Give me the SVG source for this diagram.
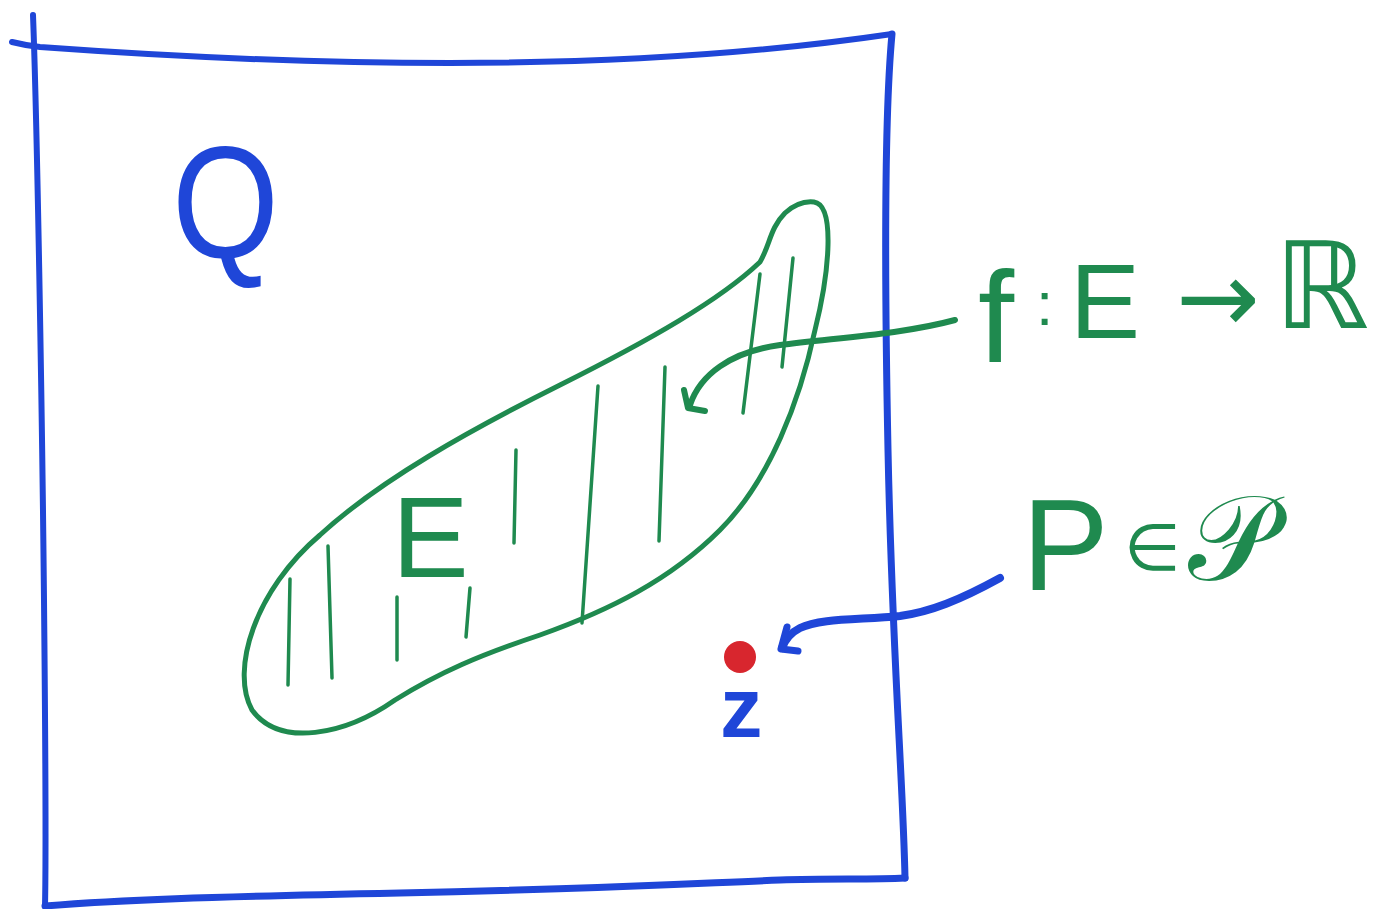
<svg xmlns="http://www.w3.org/2000/svg" width="1375" height="909" viewBox="0 0 1375 909">
<style>
.blue{fill:none;stroke:#1f46d8;stroke-linecap:round;stroke-linejoin:round}
.green{fill:none;stroke:#1f8a4f;stroke-linecap:round;stroke-linejoin:round}
.hatch{fill:none;stroke:#1f8a4f;stroke-width:3.5;stroke-linecap:round}
.tg{fill:#1f8a4f;font-family:"Liberation Sans","DejaVu Sans",sans-serif}
.tb{fill:#1f46d8;font-family:"Liberation Sans","DejaVu Sans",sans-serif}
</style>
<rect width="1375" height="909" fill="#ffffff"/>
<g id="frame">
<path class="blue" stroke-width="6" d="M 12,42 C 20,44 30,46 40,47 C 150,55 300,63 450,63 C 600,63 750,55 892,34"/>
<path class="blue" stroke-width="6" d="M 33,15 C 37,120 42,400 44,600 C 46,800 46,860 45,906"/>
<path class="blue" stroke-width="7" d="M 892,34 C 884,120 885,300 888,450 C 892,650 903,780 905,878"/>
<path class="blue" stroke-width="7" d="M 45,906 C 120,900 200,897 400,893 C 600,889 700,883 780,880 C 830,878 870,880 905,878"/>
</g>
<g id="Q">
<text class="tb" x="0" y="0" font-size="160" transform="translate(172,258) scale(0.86,1)">Q</text>
</g>
<g id="E">
<path class="green" stroke-width="5" d="M 814,202 C 835,205 830,270 815,330 C 800,400 770,480 720,530 C 670,580 610,610 540,635 C 480,655 440,672 395,700 C 345,735 280,748 252,710 C 230,670 255,590 320,535 C 380,480 470,430 560,385 C 650,340 720,300 760,262 C 770,245 770,228 785,213 C 795,204 805,201 814,202 Z"/>
<g id="hatching">
<line class="hatch" x1="290" y1="579" x2="288" y2="685"/>
<line class="hatch" x1="328" y1="546" x2="332" y2="678"/>
<line class="hatch" x1="397" y1="597" x2="397" y2="660"/>
<line class="hatch" x1="470" y1="588" x2="466" y2="637"/>
<line class="hatch" x1="516" y1="450" x2="514" y2="543"/>
<line class="hatch" x1="598" y1="386" x2="582" y2="623"/>
<line class="hatch" x1="665" y1="367" x2="659" y2="541"/>
<line class="hatch" x1="760" y1="274" x2="743" y2="413"/>
<line class="hatch" x1="793" y1="258" x2="782" y2="367"/>
</g>
<text class="tg" x="392" y="577" font-size="115">E</text>
</g>
<g id="z">
<circle cx="740" cy="657" r="16" fill="#d8262e"/>
<text class="tb" x="720" y="737" font-size="85" font-weight="bold">z</text>
</g>
<g id="f-label">
<text class="tg" y="338" font-size="105"><tspan x="978" y="362" font-size="130">f</tspan><tspan x="1036" y="325" font-size="62">:</tspan><tspan x="1070" y="338">E</tspan><tspan x="1176" y="332" font-size="100" font-family="DejaVu Sans, sans-serif">→</tspan><tspan x="1274" y="328" font-size="120" font-family="DejaVu Sans, sans-serif">ℝ</tspan></text>
</g>
<g id="P-label">
<text class="tg" y="590" font-size="130"><tspan x="1022" y="590">P</tspan><tspan x="1124" y="570" font-size="65" font-family="DejaVu Sans, sans-serif">∈</tspan><tspan x="1188" y="580" font-size="120" font-family="DejaVu Serif, DejaVu Sans, serif">𝒫</tspan></text>
</g>
<g id="connectors">
<path class="green" stroke-width="6" d="M 955,320 C 900,335 830,338 780,345 C 730,352 700,375 690,405"/>
<path class="green" stroke-width="6" d="M 684,390 L 688,408 L 705,411"/>
<path class="blue" stroke-width="8" d="M 1000,578 C 960,600 930,612 900,616 C 860,620 820,618 800,628 C 790,633 785,640 782,648"/>
<path class="blue" stroke-width="7" d="M 787,627 L 781,649 L 798,651"/>
</g>
</svg>
